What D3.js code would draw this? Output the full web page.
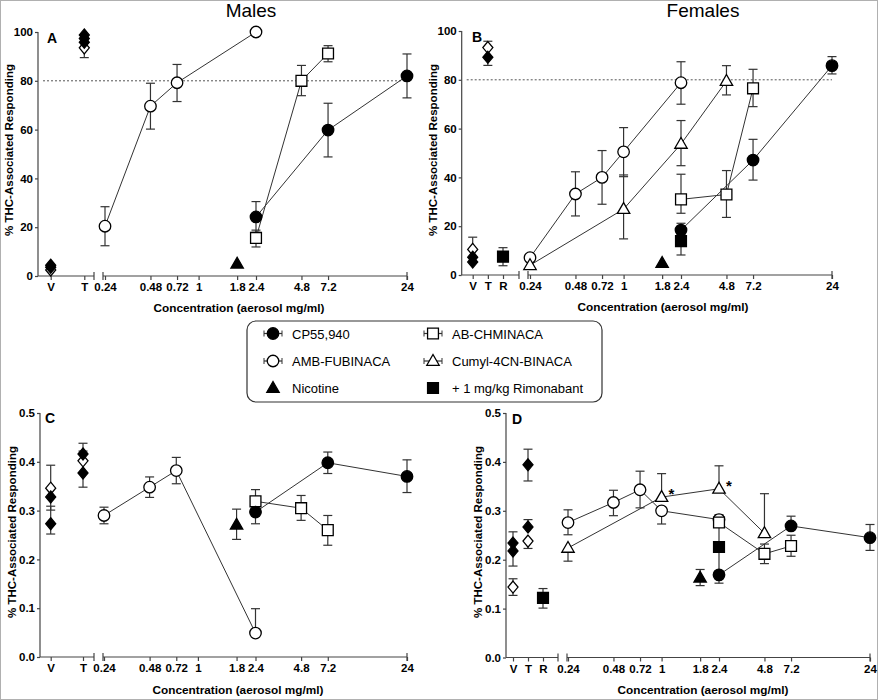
<!DOCTYPE html>
<html><head><meta charset="utf-8">
<script src="https://cdn.jsdelivr.net/npm/d3@7"></script>
<style>
body{margin:0;background:#fff}
text{font-family:"Liberation Sans",Arial,Helvetica,sans-serif}
</style>
</head><body>
<svg id="chart" width="878" height="700"></svg>
<script>
// ---------- DATA ----------
const concTicks  = [0.24, 0.48, 0.72, 1, 1.8, 2.4, 4.8, 7.2, 24];
const concLabels = ["0.24","0.48","0.72","1","1.8","2.4","4.8","7.2","24"];
const pctTicks   = [0, 20, 40, 60, 80, 100];
const rateTicks  = [0, 0.1, 0.2, 0.3, 0.4, 0.5];
const panelTitles = ["Males", "Females"];
const seriesNames = ["CP55,940", "AMB-FUBINACA", "Nicotine", "AB-CHMINACA", "Cumyl-4CN-BINACA", "+ 1 mg/kg Rimonabant"];
const xTitle = "Concentration (aerosol mg/ml)";
const yTitle = "% THC-Associated Responding";

// points: [concentration, mean, errUp, errDown]
// Panel A – males, % THC responding
const A_CP  = [[2.4,24.2,6.3,6.3],[7.2,59.8,11,11],[24,82,9,9]];
const A_AMB = [[0.24,20.4,8,8],[0.48,69.6,9.4,9.4],[0.72,79.2,7.5,7.7],[2.4,100,0,0]];
const A_AB  = [[2.4,15.6,3.2,3.7],[4.8,80,6.3,6.1],[7.2,91.2,3.2,3.4]];
const A_NIC = [[1.8,5,0,0]];
// controls: [category, mean, errUp, errDown]
const A_ctrlFilled = [["V",4.4,0,0],["V",3.6,0,0],["T",98.8,0,0],["T",97.3,0,0],["T",95.8,0,0]];
const A_ctrlOpen   = [["V",2.5,0,0],["T",93.5,0,4]];

// Panel B – females, % THC responding
const B_CP  = [[2.4,18.4,2.8,0],[7.2,47.1,8.5,8.2],[24,85.8,3.7,3.4]];
const B_AMB = [[0.24,7.1,0,0],[0.48,33.2,9.1,9],[0.72,40,11,11],[1,50.5,9.9,10.2],[2.4,78.8,8.6,8.8]];
const B_AB  = [[2.4,31,10.3,5.7],[4.8,33,9.8,9.4],[7.2,76.5,7.8,7.5]];
const B_CUM = [[0.24,4,0,0],[1,27,14,12.2],[2.4,53.7,9.6,8.9],[4.8,79.5,6.3,5.7]];
const B_NIC = [[1.8,4.9,0,0]];
const B_RIM = [[2.4,13.9,0,5.7]];
const B_ctrlRim    = [["R",7.5,3.7,3.7]];
const B_ctrlFilled = [["V",7.3,0,0],["V",5.3,0,0],["T",89.2,0,3.3]];
const B_ctrlOpen   = [["V",10.5,5,0],["T",93.2,2.6,0]];

// Panel C – males, rate
const C_CP  = [[2.4,0.297,0,0.024],[7.2,0.398,0.022,0.022],[24,0.37,0.034,0.033]];
const C_AMB = [[0.24,0.29,0.017,0.017],[0.48,0.348,0.021,0.021],[0.72,0.382,0.027,0.027],[2.4,0.049,0.05,0]];
const C_AB  = [[2.4,0.319,0.024,0],[4.8,0.305,0.026,0.025],[7.2,0.26,0.03,0.031]];
const C_NIC = [[1.8,0.271,0.032,0.03]];
const C_ctrlFilled = [["V",0.328,0,0.027],["V",0.273,0.036,0.021],["T",0.416,0.022,0],["T",0.377,0,0.029]];
const C_ctrlOpen   = [["V",0.346,0.047,0],["T",0.402,0.02,0]];

// Panel D – females, rate
const D_CP  = [[2.4,0.169,0,0.017],[7.2,0.269,0.02,0],[24,0.245,0.027,0.026]];
const D_AMB = [[0.24,0.276,0.026,0.025],[0.48,0.317,0.025,0.027],[0.72,0.343,0.038,0.037],[1,0.3,0,0.027],[2.4,0.282,0.01,0]];
const D_AB  = [[2.4,0.276,0,0.01],[4.8,0.212,0.02,0.02],[7.2,0.228,0.022,0.021]];
const D_CUM = [[0.24,0.224,0,0.027],[1,0.328,0.048,0],[2.4,0.345,0.047,0],[4.8,0.254,0.081,0]];
const D_NIC = [[1.8,0.163,0.017,0.016]];
const D_RIM = [[2.4,0.226,0.06,0.06]];
const D_ctrlRim    = [["R",0.122,0.019,0.021]];
const D_ctrlFilled = [["V",0.234,0.023,0],["V",0.218,0,0.031],["T",0.394,0.032,0.033],["T",0.267,0.015,0]];
const D_ctrlOpen   = [["V",0.144,0.017,0.017],["T",0.238,0,0.015]];
const D_stars = [1, 2.4]; // significance marks on Cumyl-4CN-BINACA

// ---------- DRAWING ----------
const svg = d3.select("#chart");
svg.append("rect").attr("x",0.5).attr("y",0.5).attr("width",877).attr("height",699)
   .attr("fill","#fff").attr("stroke","#b0b0b0");

const SYM = {
  circle:   d3.symbol(d3.symbolCircle, 104)(),
  square:   d3.symbol(d3.symbolSquare, 118)(),
  triangle: "M0,-6.5L6.2,4.3L-6.2,4.3Z",
  diamond:  "M0,-6L5,0L0,6L-5,0Z"
};
const AX = "#444";

const panels = [
  {letter:"A", x0:38, top:32, bottom:276, dom:[0,100], ticks:pctTicks, fmt:d3.format("d"),
   cats:["V","T"], catPos:[50.7,84.3], segEnd:94, logStart:103, logRange:[105,407], ref:80,
   ylab:[13,150], xlab:[239,312], title:[panelTitles[0],251,17], lp:[47,43],
   series:[
     {d:A_AMB, s:"circle", f:"#fff", line:true},
     {d:A_AB,  s:"square", f:"#fff", line:true},
     {d:A_CP,  s:"circle", f:"#000", line:true},
     {d:A_NIC, s:"triangle", f:"#000", line:false}],
   ctrls:[{d:A_ctrlOpen, s:"diamond", f:"#fff"},{d:A_ctrlFilled, s:"diamond", f:"#000"}]},
  {letter:"B", x0:461.7, top:31, bottom:275, dom:[0,100], ticks:pctTicks, fmt:d3.format("d"),
   cats:["V","T","R"], catPos:[472.7,503], segEnd:519, logStart:528, logRange:[530,832], ref:80,
   ylab:[437,150], xlab:[663,311], title:[panelTitles[1],703,17], lp:[472,42],
   series:[
     {d:B_AMB, s:"circle", f:"#fff", line:true},
     {d:B_CUM, s:"triangle", f:"#fff", line:true},
     {d:B_AB,  s:"square", f:"#fff", line:true},
     {d:B_CP,  s:"circle", f:"#000", line:true},
     {d:B_RIM, s:"square", f:"#000", line:false},
     {d:B_NIC, s:"triangle", f:"#000", line:false}],
   ctrls:[{d:B_ctrlOpen, s:"diamond", f:"#fff"},{d:B_ctrlFilled, s:"diamond", f:"#000"},{d:B_ctrlRim, s:"square", f:"#000"}]},
  {letter:"C", x0:40, top:413, bottom:657, dom:[0,0.5], ticks:rateTicks, fmt:d3.format(".1f"),
   cats:["V","T"], catPos:[50.7,83], segEnd:94, logStart:103, logRange:[104,407], ref:null,
   ylab:[16,532], xlab:[238,694], title:null, lp:[45,423],
   series:[
     {d:C_AMB, s:"circle", f:"#fff", line:true},
     {d:C_AB,  s:"square", f:"#fff", line:true},
     {d:C_CP,  s:"circle", f:"#000", line:true},
     {d:C_NIC, s:"triangle", f:"#000", line:false}],
   ctrls:[{d:C_ctrlOpen, s:"diamond", f:"#fff"},{d:C_ctrlFilled, s:"diamond", f:"#000"}]},
  {letter:"D", x0:506, top:413, bottom:657.5, dom:[0,0.5], ticks:rateTicks, fmt:d3.format(".1f"),
   cats:["V","T","R"], catPos:[513,543], segEnd:558, logStart:567, logRange:[568,870], ref:null,
   ylab:[482,532], xlab:[703,694], title:null, lp:[512,424],
   series:[
     {d:D_AMB, s:"circle", f:"#fff", line:true},
     {d:D_CUM, s:"triangle", f:"#fff", line:true, stars:D_stars},
     {d:D_AB,  s:"square", f:"#fff", line:true},
     {d:D_CP,  s:"circle", f:"#000", line:true},
     {d:D_RIM, s:"square", f:"#000", line:false},
     {d:D_NIC, s:"triangle", f:"#000", line:false}],
   ctrls:[{d:D_ctrlOpen, s:"diamond", f:"#fff"},{d:D_ctrlFilled, s:"diamond", f:"#000"},{d:D_ctrlRim, s:"square", f:"#000"}]}
];

function errBar(g, x, y, m, eu, ed) {
  if (eu <= 0 && ed <= 0) return;
  const y1 = y(m + eu), y2 = y(m - ed);
  g.append("line").attr("x1",x).attr("x2",x).attr("y1",y1).attr("y2",y2)
    .attr("stroke","#333").attr("stroke-width",1.2);
  [[eu,y1],[ed,y2]].forEach(([e,yy]) => {
    if (e > 0) g.append("line").attr("x1",x-4.5).attr("x2",x+4.5).attr("y1",yy).attr("y2",yy)
      .attr("stroke","#333").attr("stroke-width",1.2);
  });
}
function marker(g, s, f, x, y) {
  g.append("path").attr("d",SYM[s]).attr("transform",`translate(${x},${y})`)
    .attr("fill",f).attr("stroke","#000").attr("stroke-width",1.3);
}

panels.forEach(p => {
  const g = svg.append("g");
  const y = d3.scaleLinear().domain(p.dom).range([p.bottom, p.top]);
  const xl = d3.scaleLog().domain([0.24, 24]).range(p.logRange);
  const xc = d3.scalePoint().domain(p.cats).range(p.catPos);

  // y axis
  const ya = g.append("g").attr("transform",`translate(${p.x0},0)`)
    .call(d3.axisLeft(y).tickValues(p.ticks).tickFormat(p.fmt).tickSize(3).tickPadding(2));
  ya.select(".domain").remove();
  g.append("line").attr("x1",p.x0).attr("x2",p.x0).attr("y1",p.top).attr("y2",p.bottom).attr("stroke",AX).attr("stroke-width",1.2);

  // x axis – category segment
  const xa1 = g.append("g").attr("transform",`translate(0,${p.bottom})`)
    .call(d3.axisBottom(xc).tickSize(4).tickPadding(3));
  xa1.select(".domain").remove();
  g.append("line").attr("x1",p.x0).attr("x2",p.segEnd).attr("y1",p.bottom).attr("y2",p.bottom).attr("stroke",AX).attr("stroke-width",1.2);
  // x axis – log segment
  const xa2 = g.append("g").attr("transform",`translate(0,${p.bottom})`)
    .call(d3.axisBottom(xl).tickValues(concTicks).tickFormat((d,i)=>concLabels[i]).tickSize(4).tickPadding(3));
  xa2.select(".domain").remove();
  g.append("line").attr("x1",p.logStart).attr("x2",p.logRange[1]).attr("y1",p.bottom).attr("y2",p.bottom).attr("stroke",AX).attr("stroke-width",1.2);
  // break / end caps
  [p.segEnd, p.logStart, p.logRange[1]].forEach(x => {
    g.append("line").attr("x1",x).attr("x2",x).attr("y1",p.bottom-4).attr("y2",p.bottom+4).attr("stroke",AX).attr("stroke-width",1.2);
  });
  g.selectAll(".tick line").attr("stroke",AX).attr("stroke-width",1.2);
  g.selectAll(".tick text").attr("font-size", "11.5px").attr("font-weight","bold").attr("fill","#000")
    .attr("font-family","'Liberation Sans',Arial,sans-serif");

  // reference line
  if (p.ref !== null) {
    g.append("line").attr("x1",p.x0+5).attr("x2",p.logRange[1]).attr("y1",y(p.ref)).attr("y2",y(p.ref))
      .attr("stroke","#555").attr("stroke-width",1).attr("stroke-dasharray","2,2");
  }

  // labels
  g.append("text").attr("transform",`translate(${p.ylab[0]},${p.ylab[1]}) rotate(-90)`)
    .attr("text-anchor","middle").attr("font-size","11.5px").attr("font-weight","bold").text(yTitle);
  g.append("text").attr("x",p.xlab[0]).attr("y",p.xlab[1]).attr("text-anchor","middle")
    .attr("font-size","11.8px").attr("font-weight","bold").text(xTitle);
  g.append("text").attr("x",p.lp[0]).attr("y",p.lp[1]).attr("font-size","14px").attr("font-weight","bold").text(p.letter);
  if (p.title) g.append("text").attr("x",p.title[1]).attr("y",p.title[2]).attr("text-anchor","middle")
    .attr("font-size","19px").text(p.title[0]);

  // connecting lines
  const lineGen = d3.line().x(d => xl(d[0])).y(d => y(d[1]));
  p.series.filter(s => s.line).forEach(s => {
    g.append("path").attr("d", lineGen(s.d)).attr("fill","none").attr("stroke","#333").attr("stroke-width",1);
  });
  // error bars
  p.series.forEach(s => s.d.forEach(d => errBar(g, xl(d[0]), y, d[1], d[2], d[3])));
  p.ctrls.forEach(s => s.d.forEach(d => errBar(g, xc(d[0]), y, d[1], d[2], d[3])));
  // markers
  p.ctrls.forEach(s => s.d.forEach(d => marker(g, s.s, s.f, xc(d[0]), y(d[1]))));
  p.series.forEach(s => s.d.forEach(d => marker(g, s.s, s.f, xl(d[0]), y(d[1]))));
  // stars
  p.series.filter(s => s.stars).forEach(s => s.d.filter(d => s.stars.includes(d[0])).forEach(d => {
    g.append("text").attr("x", xl(d[0]) + 7).attr("y", y(d[1]) + 2).attr("font-size","15px")
      .attr("font-weight","bold").text("*");
  }));
});

// ---------- LEGEND ----------
const lg = svg.append("g");
lg.append("rect").attr("x",247).attr("y",321).attr("width",355).attr("height",81).attr("rx",9)
  .attr("fill","#fff").attr("stroke","#333").attr("stroke-width",1.2);
const legendItems = [
  {name:seriesNames[0], s:"circle",   f:"#000", line:true,  col:0, row:0},
  {name:seriesNames[1], s:"circle",   f:"#fff", line:true,  col:0, row:1},
  {name:seriesNames[2], s:"triangle", f:"#000", line:false, col:0, row:2},
  {name:seriesNames[3], s:"square",   f:"#fff", line:true,  col:1, row:0},
  {name:seriesNames[4], s:"triangle", f:"#fff", line:true,  col:1, row:1},
  {name:seriesNames[5], s:"square",   f:"#000", line:false, col:1, row:2}
];
const colX = [273, 433], rowY = [333.5, 361, 388];
legendItems.forEach(it => {
  const cx = colX[it.col], cy = rowY[it.row];
  if (it.line) {
    lg.append("line").attr("x1",cx-9).attr("x2",cx+9).attr("y1",cy).attr("y2",cy).attr("stroke","#333").attr("stroke-width",1.2);
    [cx-9, cx+9].forEach(x => lg.append("line").attr("x1",x).attr("x2",x).attr("y1",cy-3).attr("y2",cy+3).attr("stroke","#333").attr("stroke-width",1));
  }
  marker(lg, it.s, it.f, cx, cy);
  lg.append("text").attr("x",cx+19).attr("y",cy+5).attr("font-size","13px").text(it.name);
});
</script>
</body></html>
